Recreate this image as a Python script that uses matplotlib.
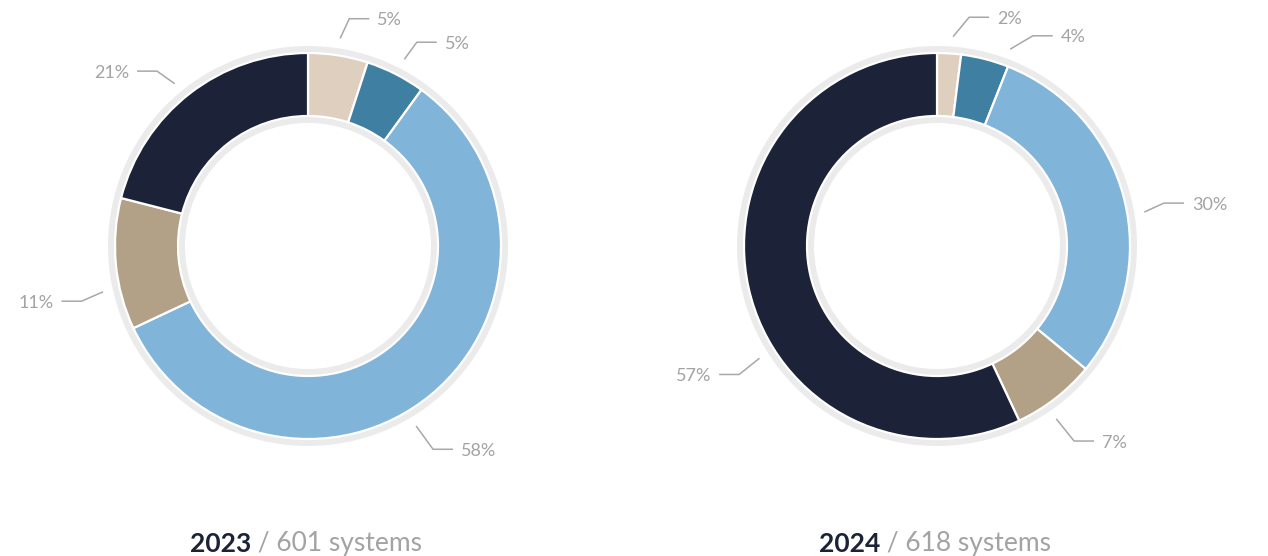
import numpy as np
import matplotlib
matplotlib.use("Agg")
import matplotlib.pyplot as plt

plt.rcParams['font.family'] = ['Lato', 'DejaVu Sans']

# data
years = ['2023', '2024']
systems = [601, 618]
shares_2023 = [5, 5, 58, 11, 21]
shares_2024 = [2, 4, 30, 7, 57]
colors = ['#dfcfbf', '#3e7fa2', '#80b4d9', '#b2a186', '#1c2237']

# label nudges (degrees, clockwise) so leader lines match the original layout
start_nudge_2023 = [-0.2, 0.3, 8.6, -7.2, -1.6]
elbow_nudge_2023 = [1.3, 1.1, 8, -8.3, -3]
start_nudge_2024 = [0.8, 6, 5.1, 3.2, -19.7]
elbow_nudge_2024 = [4.4, 10.1, 3.7, 2.7, -20.4]

W, H = 1268, 556
fig = plt.figure(figsize=(W / 100, H / 100), dpi=100)
ax = fig.add_axes([0, 0, 1, 1])

centers = [(308, H - 246), (937, H - 246)]
label_grey = '#a3a3a3'


def polar(center, r, cw):
    phi = np.deg2rad(90 - cw)
    return center[0] + r * np.cos(phi), center[1] + r * np.sin(phi)


def donut(center, shares, s_nudge, e_nudge):
    # light grey ring behind
    ax.pie([1], radius=200, center=center, colors=['#ebebeb'], startangle=90,
           wedgeprops=dict(width=77, linewidth=0))
    ax.pie(shares, radius=193, center=center, colors=colors, startangle=90,
           counterclock=False,
           wedgeprops=dict(width=63, edgecolor='white', linewidth=1.6))

    total = sum(shares)
    cum = np.cumsum([0] + shares)
    for i, v in enumerate(shares):
        mid = (cum[i] + v / 2) / total * 360
        x0, y0 = polar(center, 210, mid + s_nudge[i])
        ea = mid + e_nudge[i]
        down = max(0.0, -np.sin(np.deg2rad(90 - ea)))
        x1, y1 = polar(center, 231 + 9 * down, ea)
        side = 1 if x1 > center[0] else -1
        x2 = x1 + side * 20
        ax.plot([x0, x1, x2], [y0, y1, y1], color='#a8a8a8', lw=1.1,
                solid_capstyle='butt')
        ax.text(x2 + side * 8, y1 - 1.5, f'{v}%', ha='left' if side > 0 else 'right',
                va='center', fontsize=13, color=label_grey)


donut(centers[0], shares_2023, start_nudge_2023, elbow_nudge_2023)
donut(centers[1], shares_2024, start_nudge_2024, elbow_nudge_2024)

ax.set_xlim(0, W)
ax.set_ylim(0, H)
ax.set_aspect('equal')
ax.axis('off')

# captions: bold year + grey count, centred under each donut
renderer = fig.canvas.get_renderer()
for (cx, _), yr, n in zip(centers, years, systems):
    t1 = ax.text(0, 12, yr, fontsize=19, fontweight='bold', color='#1c2237',
                 ha='left', va='center')
    t2 = ax.text(0, 12, f' / {n} systems', fontsize=19, color=label_grey,
                 ha='left', va='center')
    w1 = t1.get_window_extent(renderer).width
    w2 = t2.get_window_extent(renderer).width
    start = cx - 2 - (w1 + w2) / 2
    t1.set_x(start)
    t2.set_x(start + w1)

fig.savefig('out.png', dpi=100)
